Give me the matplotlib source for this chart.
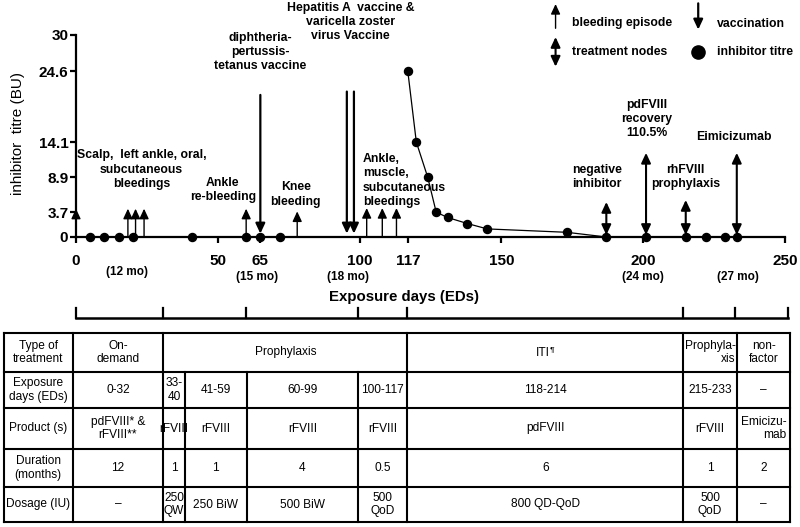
import matplotlib
matplotlib.use("Agg")
import matplotlib.pyplot as plt
from matplotlib.patches import FancyArrowPatch

plt.rcParams['font.family'] = ['Liberation Sans', 'DejaVu Sans']

# inhibitor titre (BU) against exposure days
early_ed = [5, 10, 15, 20, 41, 60, 65, 72]
early_titre = [0, 0, 0, 0, 0, 0, 0, 0]
iti_ed = [117, 120, 124, 127, 131, 138, 145, 173, 187]
iti_titre = [24.6, 14.1, 8.9, 3.7, 2.9, 2.0, 1.2, 0.7, 0]
late_ed = [201, 215, 222, 229, 233]
late_titre = [0, 0, 0, 0, 0]

# events
bleed_ed = [0, 18.3, 21, 24, 60, 78, 102.5, 108, 113]
bleed_top = [4.2, 4.2, 4.2, 4.2, 4.2, 3.8, 4.3, 4.3, 4.3]
vacc_ed = [65, 95.5, 98]
vacc_top = [21.1, 21.6, 21.6]
node_ed = [187, 201, 215, 233]
node_top = [5.2, 12.5, 5.5, 12.5]

x_ticks = [0, 50, 65, 100, 117, 150, 200, 250]
y_ticks = [0, 3.7, 8.9, 14.1, 24.6, 30]
y_labels = ['0', '3.7', '8.9', '14.1', '24.6', '30']
month_ed = [18, 64, 96, 200, 233.5]
month_labels = ['(12 mo)', '(15 mo)', '(18 mo)', '(24 mo)', '(27 mo)']
period_edges = [0, 30.8, 60, 99.5, 116.7, 214, 232.4, 251]

# table below the timeline
row_heads = ['Type of\ntreatment', 'Exposure\ndays (EDs)', 'Product (s)',
             'Duration\n(months)', 'Dosage (IU)']
treatment = ['On-\ndemand', 'Prophylaxis', 'ITI', 'Prophyla-\nxis', 'non-\nfactor']
treatment_cols = [(1, 2), (2, 6), (6, 7), (7, 8), (8, 9)]
ed_range = ['0-32', '33-\n40', '41-59', '60-99', '100-117', '118-214', '215-233', '–']
product = ['pdFVIII* &\nrFVIII**', 'rFVIII', 'rFVIII', 'rFVIII', 'rFVIII',
           'pdFVIII', 'rFVIII', 'Emicizu-\nmab']
duration = ['12', '1', '1', '4', '0.5', '6', '1', '2']
dosage = ['–', '250\nQW', '250 BiW', '500 BiW', '500\nQoD', '800 QD-QoD', '500\nQoD', '–']

W, H = 800, 527
fig = plt.figure(figsize=(W / 100, H / 100), dpi=100)

ax_l, ax_r, ax_t, ax_b = 76, 785, 35, 237
tax = fig.add_axes([0, 0, 1, 1])
ax = fig.add_axes([ax_l / W, 1 - ax_b / H, (ax_r - ax_l) / W, (ax_b - ax_t) / H])
ax.patch.set_visible(False)

# table axes: x in exposure days (same scale as the plot), y in pixels from top
k = 250 / (ax_r - ax_l)
tax.set_xlim(-ax_l * k, (W - ax_l) * k)
tax.set_ylim(H, 0)
tax.axis('off')

ax.set_xlim(0, 250)
ax.set_ylim(0, 30)
for s in ['top', 'right']:
    ax.spines[s].set_visible(False)
for s in ['left', 'bottom']:
    ax.spines[s].set_linewidth(1.6)
ax.set_xticks(x_ticks)
ax.set_yticks(y_ticks)
ax.set_yticklabels(y_labels)
ax.tick_params(axis='both', direction='out', width=1.6, length=4.5)
ax.tick_params(axis='x', labelsize=11, pad=8)
ax.tick_params(axis='y', labelsize=11, pad=1)
for lab in ax.get_xticklabels() + ax.get_yticklabels():
    lab.set_fontweight('bold')
ax.set_ylabel('inhibitor  titre (BU)', fontsize=11)
ax.yaxis.set_label_coords(-0.072, 0.51)


def arrow(x0, y0, x1, y1, style, lw):
    ax.add_patch(FancyArrowPatch((x0, y0), (x1, y1), arrowstyle=style,
                                 mutation_scale=10, lw=lw, color='black',
                                 shrinkA=0, shrinkB=0, clip_on=False, zorder=3))


head = 'head_length=0.6,head_width=0.28'
for x, t in zip(bleed_ed, bleed_top):
    arrow(x, 0, x, t, '-|>,' + head, 1.0)
for x, t in zip(vacc_ed, vacc_top):
    arrow(x, t, x, 0.5, '-|>,' + head, 1.6)
for x, t in zip(node_ed, node_top):
    arrow(x, 0.3, x, t, '<|-|>,' + head, 1.5)

ax.plot(iti_ed, iti_titre, color='black', lw=0.9, zorder=4, clip_on=False)
ax.plot(early_ed + iti_ed + late_ed, early_titre + iti_titre + late_titre, 'o',
        color='black', ms=5.8, zorder=5, clip_on=False)

bold = dict(fontsize=8.8, fontweight='bold', linespacing=1.25, ha='center', va='center')
ax.text(23.1, 12.2, 'Scalp,  left ankle, oral,', **bold)
ax.text(23.1, 8.9, 'subcutaneous\nbleedings', **bold)
ax.text(51.8, 7.0, 'Ankle\nre-bleeding', **bold)
ax.text(64.9, 27.5, 'diphtheria-\npertussis-\ntetanus vaccine', **bold)
ax.text(77.5, 6.3, 'Knee\nbleeding', **bold)
ax.text(96.8, 31.9, 'Hepatitis A  vaccine &\nvaricella zoster\nvirus Vaccine', clip_on=False, **bold)
ax.text(101.1, 8.4, 'Ankle,\nmuscle,\nsubcutaneous\nbleedings', multialignment='left',
        **{**bold, 'ha': 'left'})
ax.text(174.8, 8.9, 'negative\ninhibitor', multialignment='left', **{**bold, 'ha': 'left'})
ax.text(201.2, 17.5, 'pdFVIII\nrecovery\n110.5%', **bold)
ax.text(215, 8.9, 'rhFVIII\nprophylaxis', **bold)
ax.text(232, 14.9, 'Eimicizumab', **bold)

# legend
arrow(169.1, 31.0, 169.1, 34.6, '-|>,' + head, 1.0)
arrow(219.4, 34.7, 219.4, 30.8, '-|>,' + head, 1.6)
arrow(169.1, 25.3, 169.1, 29.7, '<|-|>,' + head, 1.5)
ax.plot([219.4], [27.5], 'o', color='black', ms=9.5, clip_on=False)
leg = dict(fontsize=8.8, fontweight='bold', ha='left', va='center')
ax.text(174.8, 31.8, 'bleeding episode', **leg)
ax.text(225.9, 31.6, 'vaccination', **leg)
ax.text(174.8, 27.5, 'treatment nodes', **leg)
ax.text(225.9, 27.5, 'inhibitor titre', **leg)

# month labels, axis title and treatment brackets
for x, m in zip(month_ed, month_labels):
    tax.text(x, 272 if m == '(12 mo)' else 277, m, fontsize=8.5, fontweight='bold',
             ha='center', va='center')
tax.text(115.6, 297, 'Exposure days (EDs)', fontsize=10.8, fontweight='bold',
         ha='center', va='center')
tax.plot([period_edges[0], period_edges[-1]], [318, 318], color='black', lw=1.8)
for x in period_edges:
    tax.plot([x, x], [318, 308], color='black', lw=1.6)

# table grid
col_edges = [-25.4, -1.2, 30.8, 38.4, 60.2, 99.5, 116.8, 214.1, 233.1, 251.8]
row_edges = [333, 372, 408, 449, 487, 522]
for y in row_edges:
    tax.plot([col_edges[0], col_edges[-1]], [y, y], color='black', lw=1.5)
for i, x in enumerate(col_edges):
    top = row_edges[1] if i in (3, 4, 5) else row_edges[0]
    tax.plot([x, x], [top, row_edges[-1]], color='black', lw=1.5)

cell = dict(fontsize=8.6, ha='center', va='center', linespacing=1.15)


def cx(i, j):
    return (col_edges[i] + col_edges[j]) / 2


def cy(r):
    return (row_edges[r] + row_edges[r + 1]) / 2


for r, txt in enumerate(row_heads):
    tax.text(cx(0, 1), cy(r), txt, **cell)
for (i, j), txt in zip(treatment_cols, treatment):
    if txt == 'ITI':
        tax.text(cx(i, j) - 1, cy(0), 'ITI', **cell)
        tax.text(cx(i, j) + 1.6, cy(0) - 3, '¶', fontsize=6, ha='left', va='center')
    elif txt.startswith('Prophyla-'):
        tax.text(cx(i, j), cy(0), txt, multialignment='right', **cell)
    else:
        tax.text(cx(i, j), cy(0), txt, **cell)
for r, row in zip([1, 2, 3, 4], [ed_range, product, duration, dosage]):
    for c, txt in enumerate(row):
        ma = 'right' if txt.startswith('Emicizu') else 'center'
        tax.text(cx(c + 1, c + 2), cy(r), txt, multialignment=ma, **cell)

fig.savefig('out.png', dpi=100)
